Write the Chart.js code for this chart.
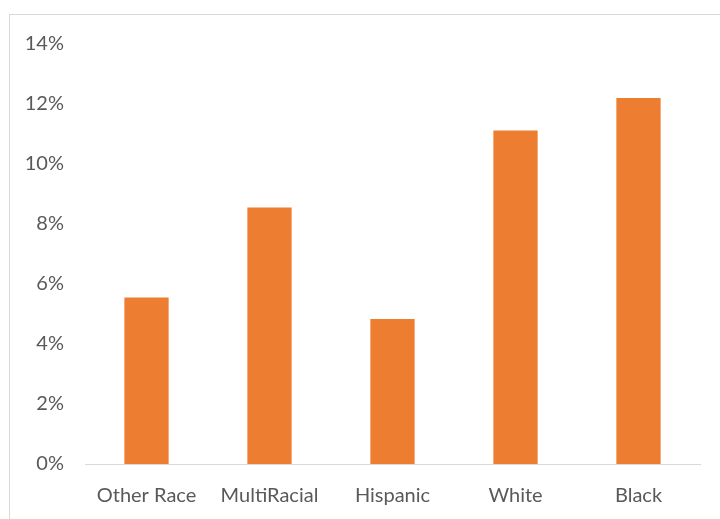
<!DOCTYPE html>
<html>
<head>
<meta charset="utf-8">
<script src="https://cdn.jsdelivr.net/npm/chart.js@4"></script>
<style>
  html, body { margin: 0; padding: 0; background: #fff; overflow: hidden; }
  #wrap { position: relative; width: 720px; height: 519px; }
  #frame {
    position: absolute; left: 9px; top: 14px; width: 760px; height: 560px;
    border: 1px solid #d9d9d9; box-sizing: border-box;
  }
  canvas { position: absolute; left: 0; top: 0; }
</style>
</head>
<body>
<div id="wrap">
  <div id="frame"></div>
  <canvas id="chart" width="720" height="519"></canvas>
</div>
<script>
// Données
const categories = ["Other Race", "MultiRacial", "Hispanic", "White", "Black"];
const rates = [5.55, 8.55, 4.83, 11.12, 12.2];
const yTicks = [0, 2, 4, 6, 8, 10, 12, 14];

const textColor = "#595959";
const barColor = "#ED7D31";
const font = { family: "Lato", size: 20 };

new Chart(document.getElementById("chart").getContext("2d"), {
  type: "bar",
  data: {
    labels: categories,
    datasets: [
      {
        data: rates,
        backgroundColor: barColor,
        barPercentage: 0.36,
        categoryPercentage: 1,
      },
    ],
  },
  options: {
    responsive: false,
    animation: false,
    layout: { padding: { top: 44, right: 20, bottom: 0, left: 0 } },
    plugins: { legend: { display: false }, tooltip: { enabled: false } },
    scales: {
      x: {
        grid: { display: false, drawTicks: false },
        border: { display: true, color: "#d9d9d9", width: 1 },
        ticks: { color: textColor, font: font, padding: 20, maxRotation: 0 },
        afterFit: (s) => { s.height = 55; },
      },
      y: {
        min: 0,
        max: 14,
        afterBuildTicks: (s) => { s.ticks = yTicks.map((v) => ({ value: v })); },
        grid: { display: false, drawTicks: false },
        border: { display: false },
        ticks: { color: textColor, font: font, padding: 21, callback: (v) => v + "%" },
        afterFit: (s) => { s.width = 85; },
      },
    },
  },
});
</script>
</body>
</html>
